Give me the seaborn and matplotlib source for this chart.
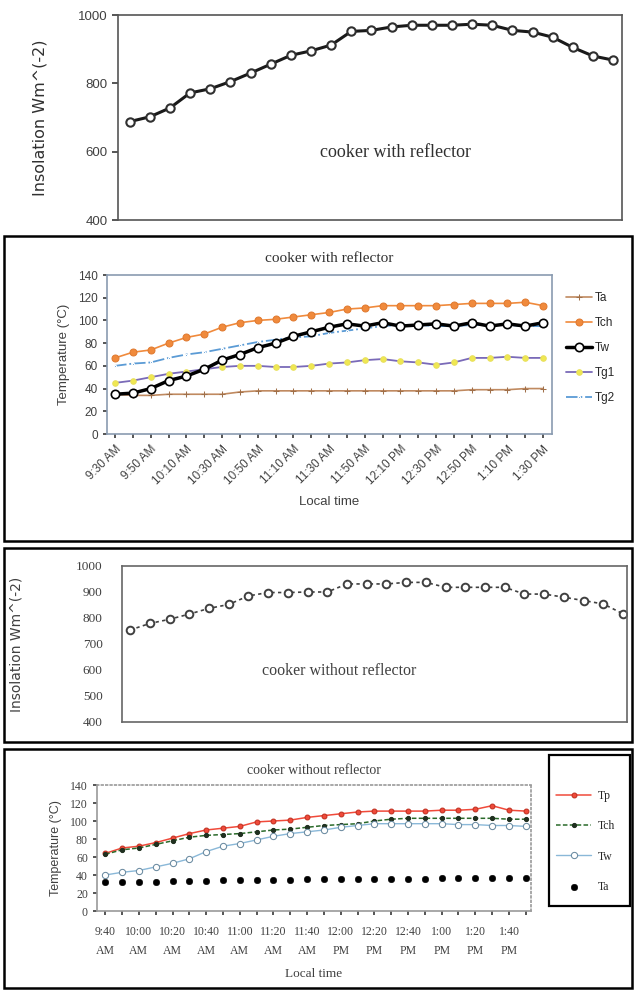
# Insolation and temperature curves, cooker with / without reflector
import numpy as np
import pandas as pd
import matplotlib
matplotlib.use('Agg')
import matplotlib.pyplot as plt
from matplotlib.patches import Rectangle
import seaborn as sns

sns.set_theme(style='white')
plt.rcParams['font.family'] = ['Liberation Sans', 'DejaVu Sans']

# ---- data ----
times_r = ['9:30 AM', '9:40 AM', '9:50 AM', '10:00 AM', '10:10 AM', '10:20 AM', '10:30 AM',
           '10:40 AM', '10:50 AM', '11:00 AM', '11:10 AM', '11:20 AM', '11:30 AM', '11:40 AM',
           '11:50 AM', '12:00 PM', '12:10 PM', '12:20 PM', '12:30 PM', '12:40 PM', '12:50 PM',
           '1:00 PM', '1:10 PM', '1:20 PM', '1:30 PM']
times_nr = ['9:40 AM', '9:50 AM', '10:00 AM', '10:10 AM', '10:20 AM', '10:30 AM', '10:40 AM',
            '10:50 AM', '11:00 AM', '11:10 AM', '11:20 AM', '11:30 AM', '11:40 AM', '11:50 AM',
            '12:00 PM', '12:10 PM', '12:20 PM', '12:30 PM', '12:40 PM', '12:50 PM', '1:00 PM',
            '1:10 PM', '1:20 PM', '1:30 PM', '1:40 PM', '1:50 PM']

insol_r = [688, 702, 728, 772, 784, 805, 830, 856, 882, 895, 912, 952, 955,
           965, 970, 970, 970, 973, 970, 955, 950, 935, 905, 880, 868]
insol_nr = [754, 779, 795, 815, 837, 852, 885, 898, 898, 900, 900, 931, 931,
            931, 937, 937, 918, 918, 918, 918, 892, 892, 880, 867, 854, 816]

# with reflector temperatures
ta_r = [35, 34, 34, 35, 35, 35, 35, 37, 38, 38, 38, 38, 38, 38, 38, 38, 38, 38, 38, 38,
        39, 39, 39, 40, 40]
tch_r = [67, 72, 74, 80, 85, 88, 94, 98, 100, 101, 103, 105, 107, 110, 111, 113, 113, 113,
         113, 114, 115, 115, 115, 116, 113]
tw_r = [35, 36, 40, 47, 51, 57, 65, 70, 76, 80, 86, 90, 94, 97, 95, 98, 95, 96, 97, 95,
        98, 95, 97, 95, 98]
tg1_r = [45, 47, 50, 53, 55, 57, 59, 60, 60, 59, 59, 60, 62, 63, 65, 66, 64, 63, 61, 63,
         67, 67, 68, 67, 67]
tg2_r = [60, 62, 63, 67, 70, 72, 75, 78, 81, 83, 85, 86, 89, 91, 93, 95, 96, 96, 95, 95,
         96, 96, 96, 95, 95]

# without reflector temperatures
tp_nr = [64, 70, 72, 76, 81, 86, 90, 92, 94, 99, 100, 101, 104, 106, 108, 110, 111, 111,
         111, 111, 112, 112, 113, 117, 112, 111]
tch_nr = [63, 68, 70, 74, 78, 82, 84, 85, 86, 88, 90, 91, 93, 95, 96, 97, 100, 102, 103,
          103, 103, 103, 103, 103, 102, 102]
tw_nr = [40, 43, 45, 49, 53, 58, 66, 72, 75, 79, 83, 86, 88, 90, 93, 95, 97, 97, 97, 97,
         97, 96, 96, 95, 95, 94]
ta_nr = [32, 32, 32, 32, 33, 33, 33, 34, 34, 34, 35, 35, 36, 36, 36, 36, 36, 36, 36, 36,
         37, 37, 37, 37, 37, 37]

W, H = 636, 991
fig = plt.figure(figsize=(W / 100, H / 100), dpi=100)


def rect(l, t, r, b):
    return [l / W, 1 - b / H, (r - l) / W, (b - t) / H]


def frame(l, t, r, b, lw=1.8):
    fig.patches.append(Rectangle((l / W, 1 - b / H), (r - l) / W, (b - t) / H,
                                 transform=fig.transFigure, fill=False,
                                 edgecolor='black', linewidth=lw))


def style_axes(ax, col='#7f7f7f'):
    for s in ax.spines.values():
        s.set_visible(True)
        s.set_color(col)
        s.set_linewidth(1.2)
    ax.grid(False)


serif = ['Liberation Serif', 'DejaVu Serif']

# ---- panel 1 : insolation with reflector ----
ax1 = fig.add_axes(rect(118, 15, 622, 220))
sns.lineplot(x=times_r, y=insol_r, ax=ax1, sort=False, color='#1a1a1a', linewidth=2.2,
             marker='o', markersize=6, markerfacecolor='white', markeredgecolor='#303030',
             markeredgewidth=1.5)
ax1.set_xlim(-0.58, 24.44)
ax1.set_ylim(400, 1000)
ax1.set_yticks([400, 600, 800, 1000])
ax1.set_xticks([])
style_axes(ax1, '#555555')
ax1.tick_params(axis='y', labelsize=9.5, colors='#404040', length=4, direction='out', left=True)
ax1.set_ylabel('Insolation Wm^(-2)', fontsize=11.5, color='#303030', family='DejaVu Sans',
               labelpad=22)
ax1.text(0.55, 0.33, 'cooker with reflector', transform=ax1.transAxes, ha='center',
         va='center', fontsize=13, family=serif, color='#303030')

# ---- panel 2 : temperatures with reflector ----
frame(4, 236, 632, 541)
ax2 = fig.add_axes(rect(107, 275, 552, 434))
sns.lineplot(x=times_r, y=ta_r, ax=ax2, sort=False, color='#c08a60', linewidth=1.2,
             marker='+', markersize=5, markeredgecolor='#a0704a', label='Ta')
sns.lineplot(x=times_r, y=tch_r, ax=ax2, sort=False, color='#f08a3c', linewidth=1.2,
             marker='o', markersize=5, markeredgecolor='#e07a30', label='Tch')
sns.lineplot(x=times_r, y=tg1_r, ax=ax2, sort=False, color='#7a6ab8', linewidth=1.3,
             marker='o', markersize=4, markerfacecolor='#f0e850', markeredgecolor='#e8e060',
             label='Tg1')
sns.lineplot(x=times_r, y=tg2_r, ax=ax2, sort=False, color='#5b9bd5', linewidth=1.3,
             linestyle='-.', marker='.', markersize=3, label='Tg2')
sns.lineplot(x=times_r, y=tw_r, ax=ax2, sort=False, color='black', linewidth=2.5,
             marker='o', markersize=6, markerfacecolor='white', markeredgecolor='black',
             markeredgewidth=1.2, label='Tw')
ax2.set_xlim(-0.45, 24.5)
ax2.set_ylim(0, 140)
ax2.set_yticks(np.arange(0, 141, 20))
ax2.set_xticks(range(len(times_r)))
ax2.set_xticklabels([t if i % 2 == 0 else '' for i, t in enumerate(times_r)],
                    rotation=45, ha='right', rotation_mode='anchor')
style_axes(ax2, '#8a9bb0')
ax2.tick_params(axis='both', labelsize=8.5, colors='#404040', length=3, direction='out',
                left=True, bottom=True)
ax2.set_ylabel('Temperature (°C)', fontsize=9.5, color='#404040', labelpad=6)
ax2.set_xlabel('Local time', fontsize=9.5, color='#404040', labelpad=6)
ax2.set_title('cooker with reflector', fontsize=11, family=serif, color='#303030', pad=9)
h, l = ax2.get_legend_handles_labels()
order = [l.index(k) for k in ['Ta', 'Tch', 'Tw', 'Tg1', 'Tg2']]
ax2.legend([h[i] for i in order], [l[i] for i in order], loc='upper left',
           bbox_to_anchor=(1.02, 0.92), frameon=False, fontsize=8.5, handlelength=2.2,
           labelspacing=1.1, borderaxespad=0, handletextpad=0.3)

# ---- panel 3 : insolation without reflector ----
frame(4, 548, 632, 742)
ax3 = fig.add_axes(rect(122, 566, 627, 722))
sns.lineplot(x=times_nr, y=insol_nr, ax=ax3, sort=False, color='#404040', linewidth=1.2,
             linestyle=(0, (2, 2)), marker='o', markersize=5.5, markerfacecolor='white',
             markeredgecolor='#404040', markeredgewidth=1.4)
ax3.set_xlim(-0.41, 25.2)
ax3.set_ylim(400, 1000)
ax3.set_yticks(np.arange(400, 1001, 100))
ax3.set_xticks([])
style_axes(ax3, '#666666')
ax3.tick_params(axis='y', labelsize=9.5, colors='#404040', length=0, pad=14)
for t in ax3.get_yticklabels():
    t.set_family(serif)
ax3.set_ylabel('Insolation Wm^(-2)', fontsize=10, color='#404040', family='DejaVu Sans',
               labelpad=38)
ax3.text(0.43, 0.33, 'cooker without reflector', transform=ax3.transAxes, ha='center',
         va='center', fontsize=11.5, family=serif, color='#404040')

# ---- panel 4 : temperatures without reflector ----
frame(4, 749, 632, 988)
ax4 = fig.add_axes(rect(97, 785, 531, 911))
sns.lineplot(x=times_nr, y=tp_nr, ax=ax4, sort=False, color='#f04a3a', linewidth=1.1,
             marker='o', markersize=3.5, markeredgecolor='#c03020', label='Tp')
sns.lineplot(x=times_nr, y=tch_nr, ax=ax4, sort=False, color='#2a6a2a', linewidth=1.1,
             linestyle=(0, (3, 1.5)), marker='o', markersize=3, markerfacecolor='#203020',
             markeredgecolor='#203020', label='Tch')
sns.lineplot(x=times_nr, y=tw_nr, ax=ax4, sort=False, color='#8ab8d8', linewidth=1.0,
             marker='o', markersize=4.5, markerfacecolor='white', markeredgecolor='#6a8aa0',
             label='Tw')
sns.scatterplot(x=times_nr, y=ta_nr, ax=ax4, color='black', s=22, edgecolor='black',
                label='Ta')
ax4.set_xlim(-0.49, 25.31)
ax4.set_ylim(0, 140)
ax4.set_yticks(np.arange(0, 141, 20))
ax4.set_xticks(range(len(times_nr)))
ax4.set_xticklabels([t.replace(' ', '\n') if i % 2 == 0 else '' for i, t in enumerate(times_nr)])
style_axes(ax4, '#9a9a9a')
ax4.spines['top'].set_linestyle(':')
ax4.spines['right'].set_linestyle(':')
ax4.tick_params(axis='both', labelsize=8.5, colors='#404040', length=3, direction='out',
                left=True, bottom=True)
ax4.tick_params(axis='x', pad=8)
for t in ax4.get_yticklabels():
    t.set_family(serif)
for t in ax4.get_xticklabels():
    t.set_family(serif)
    t.set_linespacing(1.75)
ax4.set_ylabel('Temperature (°C)', fontsize=9, color='#404040', labelpad=6)
ax4.set_xlabel('Local time', fontsize=9.5, color='#404040', family=serif, labelpad=8)
ax4.set_title('cooker without reflector', fontsize=10, family=serif, color='#404040', pad=8)
ax4.legend(loc='upper left', bbox_to_anchor=(556 / W, 1 - 790 / H),
           bbox_transform=fig.transFigure, frameon=False, handlelength=3.0,
           labelspacing=1.55, borderaxespad=0, borderpad=0, handletextpad=0.5,
           prop={'family': serif, 'size': 8.5})
frame(549, 755, 630, 906, lw=1.6)

fig.savefig('out.png', dpi=100)
